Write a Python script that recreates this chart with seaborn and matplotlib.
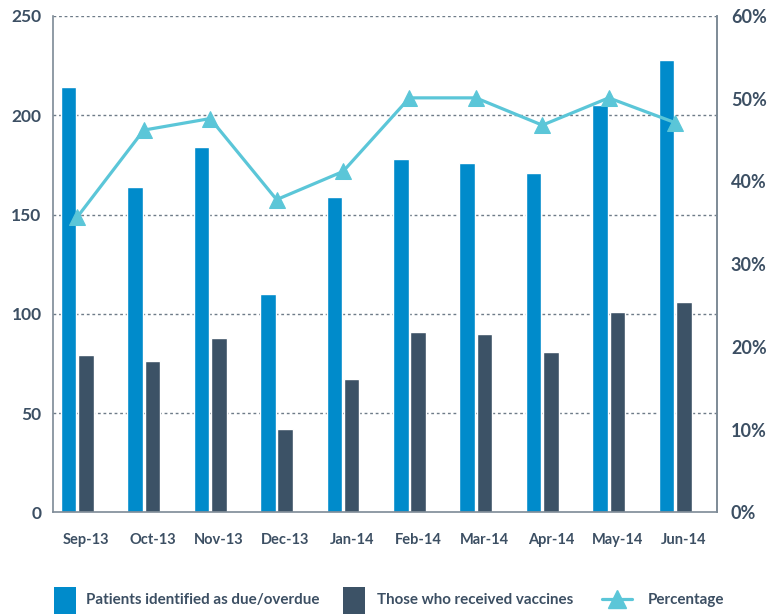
import pandas as pd
import numpy as np
import matplotlib
matplotlib.use("Agg")
import matplotlib.pyplot as plt
import seaborn as sns
from matplotlib.patches import Rectangle
from matplotlib.lines import Line2D
from matplotlib.ticker import FuncFormatter, FixedLocator

months = ['Sep-13', 'Oct-13', 'Nov-13', 'Dec-13', 'Jan-14',
          'Feb-14', 'Mar-14', 'Apr-14', 'May-14', 'Jun-14']
due = [214, 164, 184, 110, 159, 178, 176, 171, 205, 228]
vaccinated = [79, 76, 88, 42, 67, 91, 90, 81, 101, 106]
percentage = [35.7, 46.2, 47.6, 37.8, 41.2, 50.1, 50.1, 46.8, 50.1, 47.1]

lbl_due = 'Patients identified as due/overdue'
lbl_vac = 'Those who received vaccines'
lbl_pct = 'Percentage'

BLUE = '#008bcb'
DARK = '#3c5266'
CYAN = '#5bc6d8'
TEXT = '#3c4f63'
GRID = '#6e7b88'
AXIS = '#7d8a96'

bars = pd.DataFrame({'month': months, lbl_due: due, lbl_vac: vaccinated})
bars = bars.melt(id_vars='month', var_name='series', value_name='count')

sns.set_theme(style='white')
plt.rcParams['font.family'] = ['Lato', 'DejaVu Sans']

W, H = 771, 614
fig = plt.figure(figsize=(W / 100, H / 100), dpi=100)
ax = fig.add_axes([0.0684, 0.1656, 0.8616, 0.8084])

sns.barplot(data=bars, x='month', y='count', hue='series',
            hue_order=[lbl_due, lbl_vac, lbl_pct],
            palette={lbl_due: BLUE, lbl_vac: DARK, lbl_pct: CYAN},
            width=0.78, gap=0.1, saturation=1, legend=False, ax=ax)

ax.set_ylim(0, 250)
ax.set_yticks([0, 50, 100, 150, 200, 250])
ax.set_xlim(-0.5, len(months) - 0.5)
ax.set_xlabel('')
ax.set_ylabel('')
for y in [50, 100, 150, 200, 250]:
    ax.axhline(y, color=GRID, lw=1, ls=(0, (2, 2)), zorder=0)

ax.xaxis.set_minor_locator(FixedLocator(np.arange(-0.5, len(months), 1.0)))
ax.tick_params(axis='x', which='major', length=0, pad=15, labelsize=10.5, labelcolor=TEXT)
ax.tick_params(axis='x', which='minor', direction='in', length=9, width=1, color=AXIS)
ax.tick_params(axis='y', length=0, pad=8, labelsize=12.5, labelcolor=TEXT)
for t in ax.get_xticklabels() + ax.get_yticklabels():
    t.set_fontweight('bold')

for s in ['left', 'bottom', 'right']:
    ax.spines[s].set_color(AXIS)
    ax.spines[s].set_linewidth(1.2)
ax.spines['top'].set_visible(False)

ax2 = ax.twinx()
line = pd.DataFrame({'x': np.arange(len(months)) - 0.13, 'pct': percentage})
sns.lineplot(data=line, x='x', y='pct', color=CYAN, lw=2.3, marker='^',
             markersize=12, markeredgecolor=CYAN, ax=ax2)
ax2.set_xlim(-0.5, len(months) - 0.5)
ax2.set_ylim(0, 60)
ax2.set_yticks([0, 10, 20, 30, 40, 50, 60])
ax2.yaxis.set_major_formatter(FuncFormatter(lambda v, p: f'{v:.0f}%'))
ax2.tick_params(axis='y', length=0, pad=10, labelsize=13, labelcolor=TEXT)
for t in ax2.get_yticklabels():
    t.set_fontweight('bold')
ax2.set_xlabel('')
ax2.set_ylabel('')
for s in ['left', 'bottom', 'top']:
    ax2.spines[s].set_visible(False)
ax2.spines['right'].set_color(AXIS)
ax2.spines['right'].set_linewidth(1.2)

# legend drawn in figure pixels, bottom strip
def fx(px):
    return px / W

def fy(py):
    return 1 - py / H

legend_font = dict(size=10.9, weight='bold', color=TEXT, va='center', ha='left')
fig.patches.append(Rectangle((fx(54), fy(620)), fx(76) - fx(54), fy(587) - fy(620),
                             transform=fig.transFigure, color=BLUE, lw=0))
fig.text(fx(86), fy(600), lbl_due, **legend_font)
fig.patches.append(Rectangle((fx(343), fy(620)), fx(365) - fx(343), fy(587) - fy(620),
                             transform=fig.transFigure, color=DARK, lw=0))
fig.text(fx(377), fy(600), lbl_vac, **legend_font)
fig.add_artist(Line2D([fx(602), fx(632)], [fy(599), fy(599)], transform=fig.transFigure,
                      color=CYAN, lw=2.3))
fig.add_artist(Line2D([fx(617)], [fy(599)], transform=fig.transFigure, color=CYAN,
                      marker='^', markersize=13, lw=0))
fig.text(fx(648), fy(600), lbl_pct, **legend_font)

fig.savefig('out.png', dpi=100)
